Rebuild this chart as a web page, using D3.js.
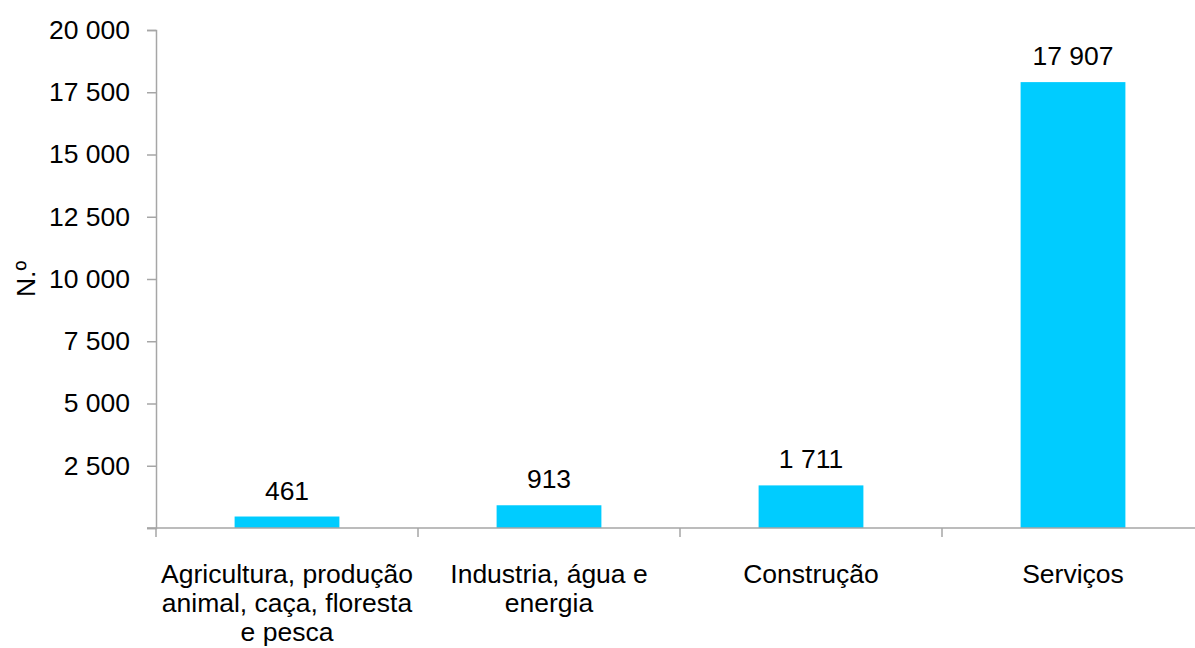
<!DOCTYPE html>
<html>
<head>
<meta charset="utf-8">
<script src="https://cdn.jsdelivr.net/npm/d3@7"></script>
<style>
  body { margin: 0; background: #fff; }
  text { font-family: "Liberation Sans", Arial, sans-serif; fill: #000; }
</style>
</head>
<body>
<div id="chart"></div>
<script>
// chart data
var categories = ["agri", "ind", "constr", "serv"];
var categoryLines = [
  ["Agricultura, produção", "animal, caça, floresta", "e pesca"],
  ["Industria, água e", "energia"],
  ["Construção"],
  ["Serviços"]
];
var values = [461, 913, 1711, 17907];
var yTicks = [0, 2500, 5000, 7500, 10000, 12500, 15000, 17500, 20000];

var widthSVG = 1195;
var heightSVG = 648;
var margins = { top: 30, left: 156, bottom: 120 };
var plotBottom = heightSVG - margins.bottom;   // 528
var plotRight = 1204;                          // axis runs past the window edge

var fmt = d3.formatLocale({ decimal: ",", thousands: " ", grouping: [3], currency: ["", ""] }).format(",");

var svg = d3.select("#chart")
  .append("svg")
  .attr("width", widthSVG)
  .attr("height", heightSVG);

var x = d3.scaleBand()
  .domain(categories)
  .range([margins.left, plotRight])
  .padding(0);

var y = d3.scaleLinear()
  .domain([0, 20000])
  .range([plotBottom, margins.top]);

var axisColor = "#a6a6a6";
var fontSize = 26.5;

// y axis
var yAxis = svg.append("g")
  .attr("transform", `translate(${margins.left},0)`)
  .call(d3.axisLeft(y)
    .tickValues(yTicks)
    .tickSize(9)
    .tickPadding(17)
    .tickFormat(d => d === 0 ? "" : fmt(d)));
yAxis.select(".domain").attr("stroke", axisColor).attr("stroke-width", 1.5);
yAxis.selectAll(".tick line").attr("stroke", axisColor).attr("stroke-width", 1.5);
yAxis.selectAll(".tick text")
  .attr("font-size", fontSize)
  .attr("font-family", "'Liberation Sans', Arial, sans-serif")
  .attr("fill", "#000");

// bars
var barW = x.bandwidth() * 0.4;
svg.selectAll("rect.bar")
  .data(values)
  .enter()
  .append("rect")
  .attr("class", "bar")
  .attr("x", (d, i) => x(categories[i]) + x.bandwidth() / 2 - barW / 2)
  .attr("y", d => y(d))
  .attr("width", barW)
  .attr("height", d => plotBottom - y(d))
  .attr("fill", "#00ccff");

// x axis line + boundary ticks
svg.append("line")
  .attr("x1", margins.left - 9)
  .attr("x2", widthSVG)
  .attr("y1", plotBottom)
  .attr("y2", plotBottom)
  .attr("stroke", axisColor)
  .attr("stroke-width", 1.5);

svg.selectAll("line.xtick")
  .data(categories)
  .enter()
  .append("line")
  .attr("class", "xtick")
  .attr("x1", d => x(d))
  .attr("x2", d => x(d))
  .attr("y1", plotBottom)
  .attr("y2", plotBottom + 9)
  .attr("stroke", axisColor)
  .attr("stroke-width", 1.5);

// value labels
svg.selectAll("text.val")
  .data(values)
  .enter()
  .append("text")
  .attr("class", "val")
  .attr("x", (d, i) => x(categories[i]) + x.bandwidth() / 2)
  .attr("y", d => y(d) - 17)
  .attr("text-anchor", "middle")
  .attr("font-size", fontSize)
  .text(d => fmt(d));

// category labels
categories.forEach(function(c, i) {
  var t = svg.append("text")
    .attr("x", x(c) + x.bandwidth() / 2)
    .attr("y", 583)
    .attr("text-anchor", "middle")
    .attr("font-size", fontSize);
  categoryLines[i].forEach(function(line, j) {
    t.append("tspan")
      .attr("x", x(c) + x.bandwidth() / 2)
      .attr("dy", j === 0 ? 0 : 29)
      .text(line);
  });
});

// y label
svg.append("text")
  .attr("transform", `translate(35, ${(margins.top + plotBottom) / 2}) rotate(-90)`)
  .attr("text-anchor", "middle")
  .attr("font-size", fontSize)
  .text("N.º");
</script>
</body>
</html>
